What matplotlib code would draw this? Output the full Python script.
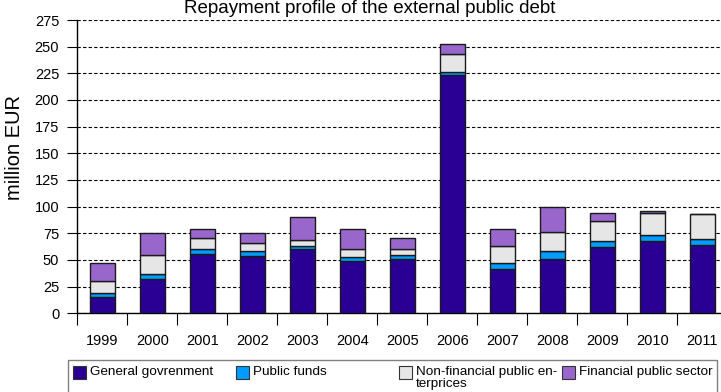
import matplotlib
matplotlib.use("Agg")
import matplotlib.pyplot as plt
from matplotlib.patches import Rectangle
import numpy as np

plt.rcParams['font.family'] = ['Liberation Sans', 'DejaVu Sans']

# Repayments by sector, million EUR
years = ['1999', '2000', '2001', '2002', '2003', '2004', '2005',
         '2006', '2007', '2008', '2009', '2010', '2011']
general_gov = [15.5, 32.5, 55.3, 53.7, 60.0, 49.4, 51.2, 223.4, 41.9, 50.6, 62.0, 67.5, 64.4]
public_funds = [3.2, 4.1, 4.7, 5.0, 3.0, 3.1, 3.2, 3.2, 5.0, 7.8, 6.0, 6.2, 5.0]
non_financial = [11.9, 18.1, 10.3, 6.9, 5.8, 7.5, 6.2, 16.5, 16.2, 17.5, 18.8, 20.0, 24.0]
financial = [16.3, 20.9, 8.4, 9.4, 21.9, 18.7, 10.4, 9.1, 15.6, 24.1, 6.8, 2.1, 0.0]

series = [general_gov, public_funds, non_financial, financial]
labels = ['General govrenment', 'Public funds',
          'Non-financial public en-\nterprices', 'Financial public sector']
colors = ['#2A0094', '#009CFF', '#E6E6E6', '#9966CC']

W, H = 721, 392
fig = plt.figure(figsize=(W / 100, H / 100), dpi=100)
ax = fig.add_axes([77.3 / W, 1 - 313.3 / H, 650 / W, 293.3 / H])

x = np.arange(len(years))
bottom = np.zeros(len(years))
for vals, col in zip(series, colors):
    ax.bar(x, vals, width=0.5, bottom=bottom, color=col,
           edgecolor='#1a1a1a', linewidth=1.0, zorder=3)
    bottom += np.array(vals)

ax.set_xlim(-0.5, len(years) - 0.5)
ax.set_ylim(0, 275)
ax.set_yticks(np.arange(0, 276, 25))
ax.yaxis.grid(True, color='black', linestyle=(0, (3, 2)), linewidth=0.8)
ax.set_axisbelow(True)

# ticks between the bars, year labels under the bar centres
ax.set_xticks(np.arange(-0.5, len(years), 1.0))
ax.set_xticklabels([])
ax.set_xticks(x, minor=True)
ax.set_xticklabels(years, minor=True)
ax.tick_params(axis='x', which='major', length=8.5, width=0.8, direction='out')
ax.tick_params(axis='x', which='minor', length=0, pad=15, labelsize=10.5)
ax.tick_params(axis='y', length=7, width=0.8, pad=6, labelsize=10.5)

for s in ['top', 'right']:
    ax.spines[s].set_visible(False)
ax.spines['left'].set_linewidth(1.0)
ax.spines['bottom'].set_linewidth(1.0)

fig.text(15 / W, 1 - 148 / H, 'million EUR', rotation=90, fontsize=14.5,
         ha='center', va='center')
fig.text(370 / W, 1 - 13 / H, 'Repayment profile of the external public debt',
         fontsize=13.5, ha='center', va='baseline')

# legend box along the bottom
fig.patches.append(Rectangle((68 / W, -0.05), (717 - 68) / W, 0.05 + (H - 360) / H,
                             transform=fig.transFigure, facecolor='white',
                             edgecolor='#808080', linewidth=1.0))
for i, (lab, col) in enumerate(zip(labels, colors)):
    px = 73 + i * 163
    fig.patches.append(Rectangle((px / W, 1 - 379 / H), 13 / W, 13 / H,
                                 transform=fig.transFigure, facecolor=col,
                                 edgecolor='#333333', linewidth=0.8))
    fig.text((px + 17) / W, 1 - 366 / H, lab, fontsize=9.7, ha='left', va='top',
             linespacing=1.0)

fig.savefig('out.png', dpi=100)
